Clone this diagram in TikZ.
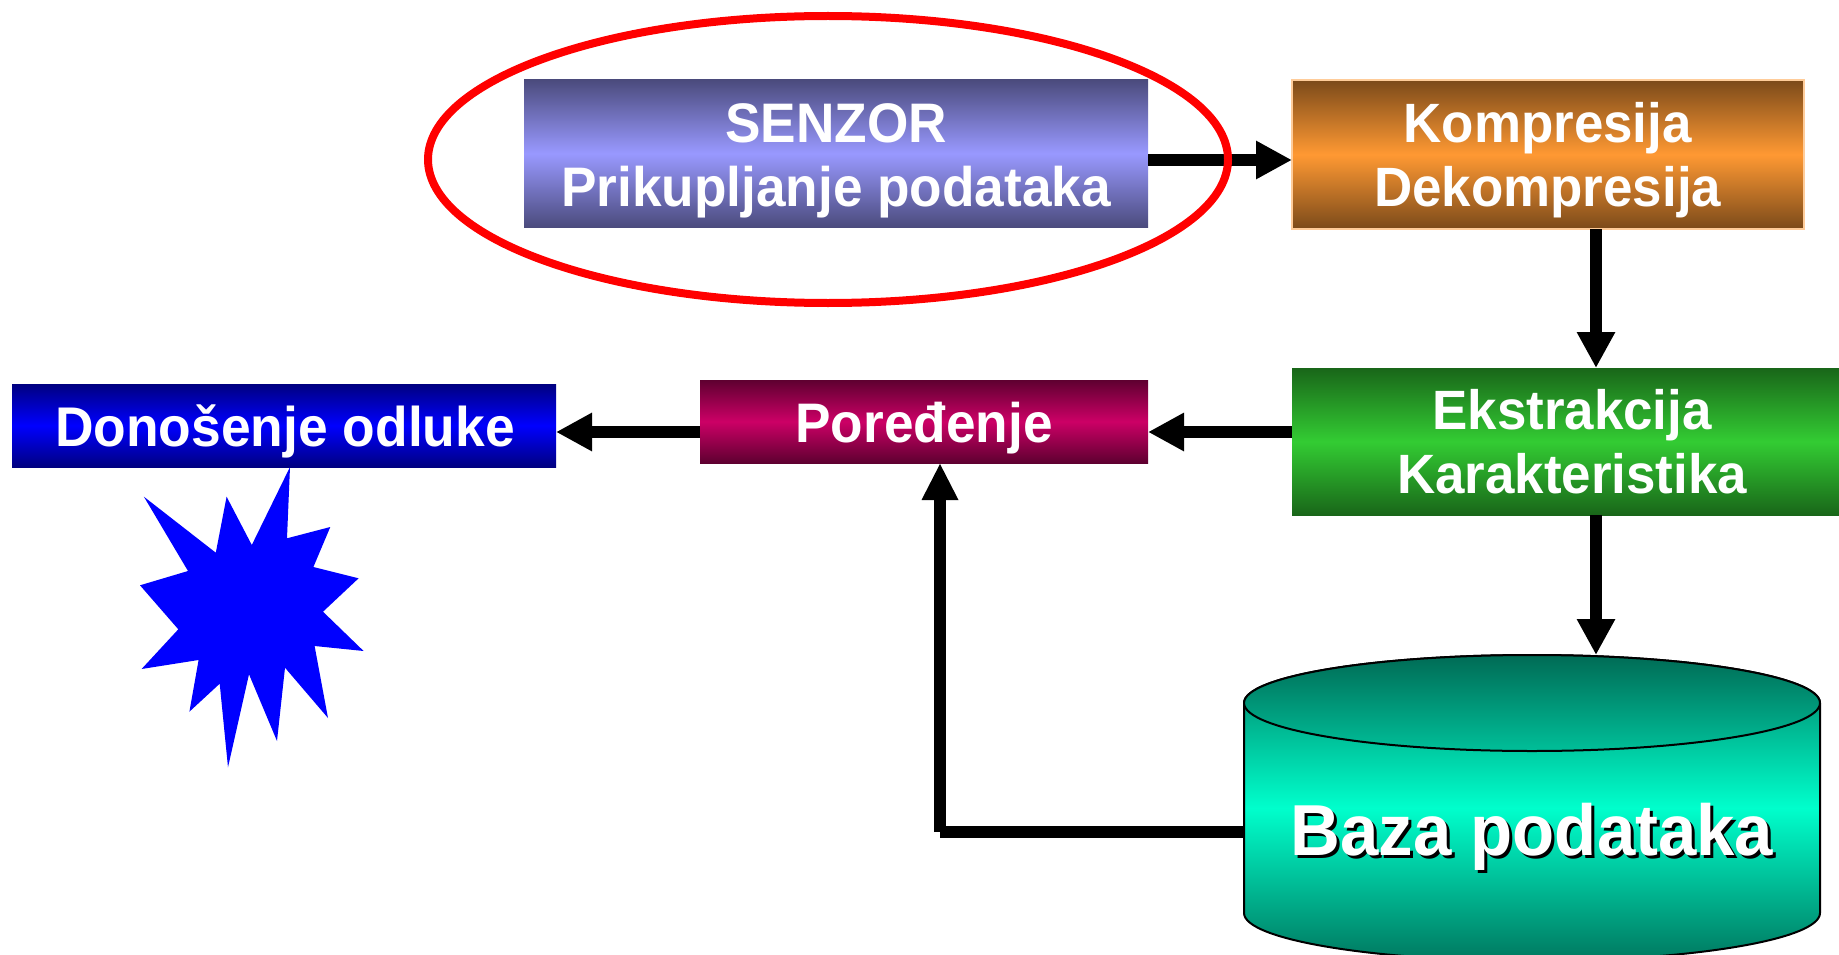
\documentclass[tikz,border=0pt]{standalone}
\usepackage{fontspec}
\usepackage{graphicx}
\setmainfont{Liberation Sans}[FakeStretch=0.955]
\usetikzlibrary{arrows.meta,shapes.geometric}
\definecolor{senzE}{HTML}{4B4B7D}\definecolor{senzM}{HTML}{9999FF}
\definecolor{kompE}{HTML}{7B4A1A}\definecolor{kompM}{HTML}{FF9933}\definecolor{kompB}{HTML}{FFCC99}
\definecolor{ekstE}{HTML}{196619}\definecolor{ekstM}{HTML}{33CC33}
\definecolor{porE}{HTML}{5E0030}\definecolor{porM}{HTML}{CC0066}
\definecolor{donE}{HTML}{000080}\definecolor{donM}{HTML}{0000FF}
\definecolor{bazE}{HTML}{00785F}\definecolor{bazM}{HTML}{00FFCC}\definecolor{bazT}{HTML}{00BF99}\definecolor{bazD}{HTML}{006B55}
\newcommand\boxlines[4]{\fontsize{#1}{64}\selectfont\kern#2pt\raisebox{0pt}[\dimexpr\height+#3pt*2\relax][\depth]{\begin{tabular}{@{}c@{}}#4\end{tabular}}}
\tikzset{
  boxnode/.style n args={2}{rectangle,inner sep=0pt,outer sep=0pt,text=white,font=\bfseries,top color=#1,bottom color=#1,middle color=#2},
  conn/.style={line width=12pt,draw=black,-{Triangle[length=36pt,width=36pt]}},
  connup/.style={line width=12pt,draw=black,-{Triangle[length=37pt,width=34pt]}},
  plainline/.style={line width=12pt,draw=black},
  bazatext/.style={anchor=base,inner sep=0pt,font=\bfseries\fontsize{72.2}{72}\selectfont},
}
\begin{document}
\begin{tikzpicture}[x=1pt,y=-1pt]
\path[use as bounding box,clip] (0,0) rectangle (1839,955);
\fill[white] (0,0) rectangle (1839,955);
% boxes
\node[boxnode={senzE}{senzM},minimum width=624pt,minimum height=147pt] (senzor) at (836,153.5)
  {\boxlines{55.7}{0}{8}{SENZOR\\Prikupljanje podataka}};
\node[boxnode={kompE}{kompM},draw=kompB,line width=2pt,minimum width=511.5pt,minimum height=149pt] (komp) at (1547.75,154.5)
  {\boxlines{55.4}{0}{7.4}{Kompresija\\Dekompresija}};
\node[boxnode={ekstE}{ekstM},minimum width=547pt,minimum height=147pt] (ekst) at (1565.5,441.5)
  {\boxlines{55.4}{13}{6.7}{Ekstrakcija\\Karakteristika}};
\node[boxnode={porE}{porM},minimum width=448pt,minimum height=83pt] (por) at (924,421.5)
  {\boxlines{55.7}{0}{8}{Poređenje}};
\node[boxnode={donE}{donM},minimum width=544pt,minimum height=83pt] (don) at (284,425.5)
  {\boxlines{55.9}{2}{7.7}{Donošenje odluke}};
% burst
\fill[donM] (290,467) -- (287,538.3) -- (330.3,527) -- (313.4,567) -- (358.6,578.3) -- (323,611.7)
  -- (363.6,651) -- (314.6,646) -- (328,718) -- (285,667.7) -- (277,741) -- (249,674.3)
  -- (228,767.3) -- (219.7,683.7) -- (189.4,711.7) -- (198.6,660) -- (141.6,669) -- (178.3,629.3)
  -- (140,585.3) -- (188,571) -- (143.9,496.7) -- (215.8,552.7) -- (226.6,496.7) -- (251.8,545) -- cycle;
% database cylinder
\shade[top color=bazE,bottom color=bazE,middle color=bazM,draw=black,line width=2pt]
  (1244,703) -- (1244,913) arc[start angle=180,end angle=360,x radius=288pt,y radius=48pt]
  -- (1820,703) arc[start angle=0,end angle=180,x radius=288pt,y radius=48pt] -- cycle;
\node[ellipse,draw=black,line width=2pt,inner sep=0pt,outer sep=0pt,minimum width=576pt,minimum height=96pt,top color=bazD,bottom color=bazT] (baztop) at (1532,703) {};
\node[bazatext,text=black] (bazshadow) at (1535,858) {Baza podataka};
\node[bazatext,text=white] (baza) at (1532,855) {Baza podataka};
\coordinate (bazaw) at (1244,832);
\coordinate (corner) at (940,832);
% connectors
\draw[conn] (senzor.east |- 0,160) -- (komp.west |- 0,160);
\draw[conn] (komp.south -| 1596,0) -- (ekst.north -| 1596,0);
\draw[conn] (ekst.south -| 1596,0) -- (baztop.north -| 1596,0);
\draw[conn] (ekst.west |- 0,432) -- (por.east |- 0,432);
\draw[conn] (por.west |- 0,432) -- (don.east |- 0,432);
\draw[plainline] (bazaw) -- (corner);
\draw[connup] (corner) -- (por.south -| corner);
% highlight ring
\node[ellipse,draw=red,line width=8pt,inner sep=0pt,outer sep=0pt,minimum width=800pt,minimum height=287pt] (ring) at (828,159.5) {};
\end{tikzpicture}
\end{document}
